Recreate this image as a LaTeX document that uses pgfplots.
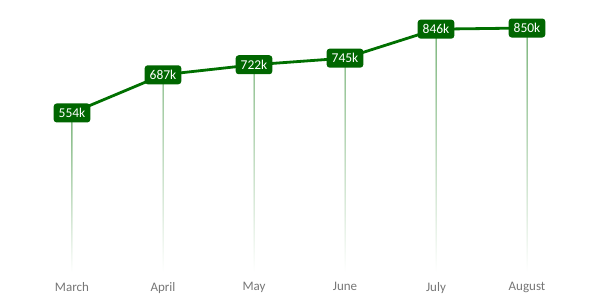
\documentclass[border=0pt]{standalone}
\usepackage{fontspec}
\setmainfont{Carlito}
\usepackage{pgfplots}
\pgfplotsset{compat=1.18}
\definecolor{boxgreen}{RGB}{0,102,0}
\definecolor{linegreen}{RGB}{0,112,0}
\definecolor{dropgreen}{RGB}{50,140,50}
\definecolor{labgray}{RGB}{118,118,118}
\begin{document}
\begin{tikzpicture}[x=1bp,y=1bp]
\begin{axis}[
  at={(0,0)}, anchor=south west,
  scale only axis,
  width=546bp, height=244bp,
  xmin=-0.5, xmax=5.5, ymin=0, ymax=850,
  axis line style={draw=none},
  tick style={draw=none},
  ytick=\empty,
  xtick={0,1,2,3,4,5},
  xticklabels={March,April,May,June,July,August},
  xticklabel style={font=\fontsize{13bp}{15bp}\selectfont, text=labgray, yshift=-7bp},
  /pgf/number format/assume math mode=true,
  clip=false,
]
\addplot[ybar, bar width=1bp, draw=none, top color=dropgreen, middle color=dropgreen!35!white, bottom color=white]
  coordinates {(0,554) (1,687) (2,722) (3,745) (4,846) (5,850)};
\addplot[linegreen, line width=2.8bp, mark=none,
  nodes near coords={\pgfmathprintnumber[fixed,precision=0]{\pgfplotspointmeta}k},
  every node near coord/.append style={anchor=center, fill=boxgreen, text=white,
    rounded corners=3bp, inner xsep=5bp, inner ysep=5bp, text height=9bp, text depth=0bp,
    font=\fontsize{13.5bp}{16bp}\selectfont}]
  coordinates {(0,554) (1,687) (2,722) (3,745) (4,846) (5,850)};
\end{axis}
\path[use as bounding box] (-26.5bp,-28bp) rectangle (573.5bp,272bp);
\end{tikzpicture}
\end{document}
